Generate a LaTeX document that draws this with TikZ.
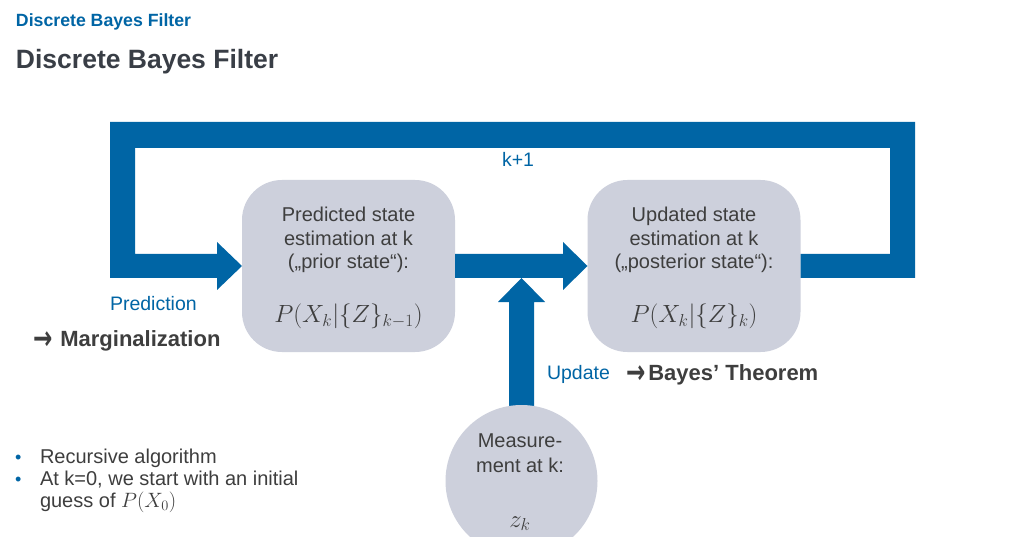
\documentclass[tikz,border=0pt]{standalone}
\usepackage{fontspec}
\setmainfont{Liberation Sans}
\newfontfamily\arrowfont{DejaVu Sans Bold}
\usetikzlibrary{calc}
\definecolor{tumblue}{RGB}{0,101,165}
\definecolor{boxgray}{RGB}{205,208,220}
\definecolor{txtgray}{RGB}{62,62,62}
\definecolor{titlegray}{RGB}{57,62,70}
\newcommand{\bigarrow}{\raisebox{-3.3pt}{\scalebox{1.05}[1.5]{\arrowfont →}}}
\begin{document}
\begin{tikzpicture}[x=1pt,y=-1pt,
  every node/.style={inner sep=0pt, outer sep=0pt},
  body/.style={font=\fontsize{20}{24}\selectfont, text=txtgray, anchor=base},
  bluelbl/.style={font=\fontsize{19.5}{24}\selectfont, text=tumblue, anchor=base west},
  boldlbl/.style={font=\fontsize{22}{26}\selectfont\bfseries, text=txtgray, anchor=base west},
  bullettxt/.style={font=\fontsize{20}{22}\selectfont, text=txtgray, anchor=base west},
  bulletdot/.style={font=\fontsize{18}{22}\selectfont, text=tumblue, anchor=base west},
  statebox/.style={fill=boxgray, rounded corners=40pt, minimum width=213pt, minimum height=172pt},
  formula/.style={font=\fontsize{26}{30}\selectfont, text=txtgray, anchor=base},
  band/.style={fill=tumblue}
]
\useasboundingbox (0,0) rectangle (1033,537);
\clip (0,0) rectangle (1033,537);
\fill[white] (0,0) rectangle (1033,537);

% titles
\node[anchor=base west, font=\fontsize{17.7}{20}\selectfont\bfseries, text=tumblue] (t1) at (16,26.5) {Discrete Bayes Filter};
\node[anchor=base west, font=\fontsize{26.5}{30}\selectfont\bfseries, text=titlegray] (t2) at (16,69) {Discrete Bayes Filter};

% state boxes
\node[statebox] (pred) at (348.5,266) {};
\node[statebox] (upd) at (694,266) {};

% loop band with arrow into predicted state
\fill[band] (upd.east |- 0,254) -- (890,254) -- (890,148) -- (135,148) -- (135,254)
  -- (217,254) -- (217,242) -- (pred.west) -- (217,290) -- (217,278)
  -- (110,278) -- (110,122) -- (915,122) -- (915,278) -- (upd.east |- 0,278) -- cycle;

% arrow predicted -> updated
\fill[band] (pred.east |- 0,254) -- (563,254) -- (563,242) -- (upd.west) -- (563,290)
  -- (563,278) -- (pred.east |- 0,278) -- cycle;

% update arrow from measurement
\fill[band] (509,420) -- (509,302) -- (498,302) -- (521.5,278) -- (545,302) -- (534,302) -- (534,420) -- cycle;

% measurement circle
\node[circle, fill=boxgray, minimum size=152pt] (meas) at (521.5,481) {};

% box texts
\node[body] (p1) at (348.5,222) {Predicted state};
\node[body] (p2) at (348.5,245.5) {estimation at k};
\node[body] (p3) at (348.5,269) {(„prior state“):};
\node[formula] (pf) at (348.5,323) {$P(X_k|\{Z\}_{k-1})$};

\node[body] (u1) at (694,222) {Updated state};
\node[body] (u2) at (694,245.5) {estimation at k};
\node[body] (u3) at (694,269) {(„posterior state“):};
\node[formula] (uf) at (694,323) {$P(X_k|\{Z\}_k)$};

\node[body] (m1) at (520,447) {Measure-};
\node[body] (m2) at (520,472) {ment at k:};
\node[formula] (mf) at (520,527) {$z_k$};

% labels
\node[font=\fontsize{19.5}{22}\selectfont, text=tumblue, anchor=base] (kk) at (518,166.5) {k+1};
\node[bluelbl] (predl) at (110,310) {Prediction};
\node[boldlbl] (marg) at (33,346) {\bigarrow\hspace{8pt}Marginalization};
\node[bluelbl] (updl) at (547,379) {Update};
\node[boldlbl] (bayes) at (626,380) {\bigarrow\hspace{3pt}Bayes’ Theorem};

% bullets
\node[bulletdot] (b1) at (15,463) {•};
\node[bullettxt] (bt1) at (40,463) {Recursive algorithm};
\node[bulletdot] (b2) at (15,485) {•};
\node[bullettxt] (bt2) at (40,485) {At k=0, we start with an initial};
\node[bullettxt] (bt3) at (40,507) {guess of $P(X_0)$};
\end{tikzpicture}
\end{document}
